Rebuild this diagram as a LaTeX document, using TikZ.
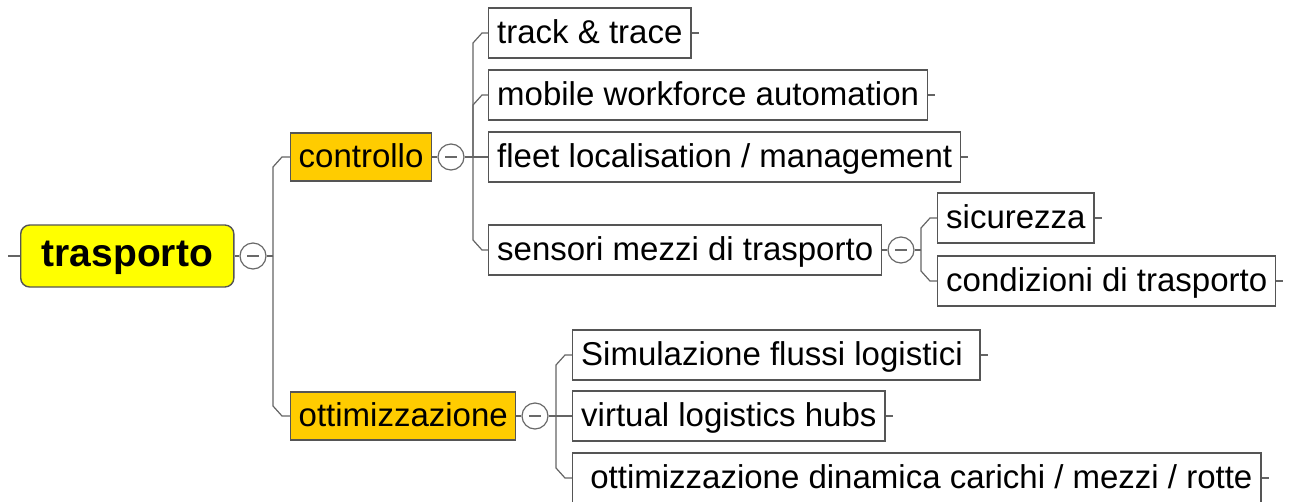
\documentclass[tikz,border=0pt]{standalone}
\usepackage{fontspec}
\setmainfont{Liberation Sans}
\usetikzlibrary{calc}

\definecolor{boxgray}{RGB}{85,85,85}
\definecolor{linegray}{RGB}{100,100,100}
\definecolor{circgray}{RGB}{105,105,105}
\definecolor{mapyellow}{RGB}{255,255,0}
\definecolor{mapgold}{RGB}{255,204,0}

\tikzset{
  conn/.style={draw=linegray, line width=1.2pt},
  topic/.style={draw=boxgray, line width=1.4pt, anchor=west, minimum height=50pt,
    inner xsep=8.5pt, inner ysep=0pt, text height=27pt, text depth=7pt,
    font=\fontsize{33}{40}\selectfont},
  main/.style={topic, fill=mapgold, minimum height=48pt, inner xsep=8pt},
  root/.style={topic, fill=mapyellow, rounded corners=9pt, minimum height=62pt,
    inner xsep=21pt, text height=30pt, text depth=10pt,
    font=\fontsize{39}{46}\selectfont\bfseries},
  fold/.style={circle, draw=circgray, fill=white, line width=1.2pt, minimum size=26pt,
    inner sep=0pt, path picture={\draw[circgray, line width=1.5pt]
      ($(path picture bounding box.center)+(-6,0)$) -- ++(12,0);}},
}

% elbow from a junction to a child, chamfered by #3
\newcommand{\elbow}[3]{\draw[conn] (#1) -- ($(#1|-#2.west)+(0,#3)$) -- ($(#1|-#2.west)+(9,0)$) -- (#2.west);}

\begin{document}
\begin{tikzpicture}[x=1pt, y=-1pt]
    \useasboundingbox (0,0) rectangle (1296,501);

    % root
    \node[root] (root) at (20,256) {trasporto};
    \node[fold] (rootfold) at (253,256) {};
    \coordinate (rootin) at (8,256);
    \coordinate (jroot) at (273,256);

    % first level
    \node[main] (ctrl) at (290,157) {controllo};
    \node[main] (ott) at (290,416) {ottimizzazione};
    \node[fold] (ctrlfold) at (451,157) {};
    \node[fold] (ottfold) at (535,416) {};
    \coordinate (jctrl) at (473,157);
    \coordinate (jott) at (556,416);

    % controllo
    \node[topic] (track) at (488,33) {track \& trace};
    \node[topic] (mobile) at (488,95) {mobile workforce automation};
    \node[topic] (fleet) at (488,157) {fleet localisation / management};
    \node[topic] (sens) at (488,250) {sensori mezzi di trasporto};
    \node[fold] (sensfold) at (901,250) {};
    \coordinate (jsens) at (921,250);
    \node[topic] (sic) at (937,218) {sicurezza};
    \node[topic] (cond) at (937,281) {condizioni di trasporto};

    % ottimizzazione
    \node[topic] (sim) at (572,355) {Simulazione flussi logistici\rule{9pt}{0pt}};
    \node[topic] (hubs) at (572,416) {virtual logistics hubs};
    \node[topic] (dyn) at (572,478) {\ ottimizzazione dinamica carichi / mezzi / rotte};

    % connectors
    \draw[conn] (rootin) -- (root.west);
    \draw[conn] (root.east) -- (rootfold.west);
    \draw[conn] (rootfold.east) -- (jroot);
    \elbow{jroot}{ctrl}{10}
    \elbow{jroot}{ott}{-10}

    \draw[conn] (ctrl.east) -- (ctrlfold.west);
    \draw[conn] (ctrlfold.east) -- (fleet.west);
    \elbow{jctrl}{track}{10}
    \elbow{jctrl}{mobile}{10}
    \elbow{jctrl}{sens}{-10}

    \draw[conn] (sens.east) -- (sensfold.west);
    \draw[conn] (sensfold.east) -- (jsens);
    \elbow{jsens}{sic}{10}
    \elbow{jsens}{cond}{-10}

    \draw[conn] (ott.east) -- (ottfold.west);
    \draw[conn] (ottfold.east) -- (hubs.west);
    \elbow{jott}{sim}{10}
    \elbow{jott}{dyn}{-10}

    \foreach \n in {track,mobile,fleet,sic,cond,sim,hubs,dyn}
        \draw[conn] (\n.east) -- ++(7,0);
\end{tikzpicture}
\end{document}
